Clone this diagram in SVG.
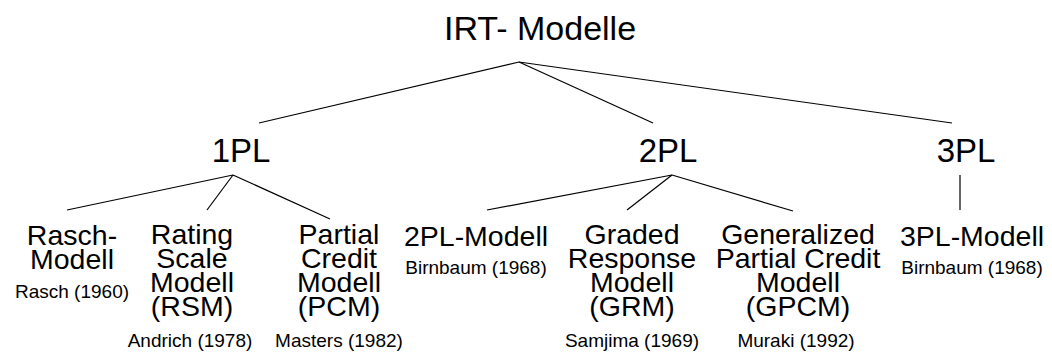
<svg xmlns="http://www.w3.org/2000/svg" width="1052" height="353" viewBox="0 0 1052 353">
  <style>
    text { font-family: "Liberation Sans", Arial, sans-serif; fill: #000; text-anchor: middle; }
    .root { font-size: 34px; }
    .lvl { font-size: 33px; }
    .leaf { font-size: 28.5px; }
    .ref { font-size: 19px; }
    .edge { stroke: #000; stroke-width: 1.2; fill: none; }
  </style>
  <rect width="1052" height="353" fill="#fff"/>

  <g id="connectors">
    <line class="edge" x1="519" y1="62" x2="259" y2="123"/>
    <line class="edge" x1="519" y1="62" x2="653" y2="123"/>
    <line class="edge" x1="519" y1="62" x2="952" y2="123"/>

    <line class="edge" x1="233" y1="175" x2="67" y2="210"/>
    <line class="edge" x1="233" y1="175" x2="207" y2="210"/>
    <line class="edge" x1="233" y1="175" x2="330" y2="219"/>

    <line class="edge" x1="672" y1="175" x2="487" y2="210"/>
    <line class="edge" x1="672" y1="175" x2="627" y2="210"/>
    <line class="edge" x1="672" y1="175" x2="793" y2="211"/>

    <line class="edge" x1="960" y1="175" x2="960" y2="210"/>
  </g>

  <g id="irt-modelle"><text class="root" x="540" y="40">IRT- Modelle</text></g>

  <g id="pl1"><text class="lvl" x="241" y="162">1PL</text></g>
  <g id="pl2"><text class="lvl" x="668" y="162">2PL</text></g>
  <g id="pl3"><text class="lvl" x="966" y="162">3PL</text></g>

  <g id="rasch">
    <text class="leaf" x="72" y="245">Rasch-</text>
    <text class="leaf" x="72" y="269">Modell</text>
    <text class="ref" x="72" y="298">Rasch (1960)</text>
  </g>

  <g id="rsm">
    <text class="leaf" x="192" y="244">Rating</text>
    <text class="leaf" x="192" y="268">Scale</text>
    <text class="leaf" x="192" y="292">Modell</text>
    <text class="leaf" x="192" y="316">(RSM)</text>
    <text class="ref" x="190" y="347">Andrich (1978)</text>
  </g>

  <g id="pcm">
    <text class="leaf" x="339" y="244">Partial</text>
    <text class="leaf" x="339" y="268">Credit</text>
    <text class="leaf" x="339" y="292">Modell</text>
    <text class="leaf" x="339" y="316">(PCM)</text>
    <text class="ref" x="339" y="347">Masters (1982)</text>
  </g>

  <g id="pl2-modell">
    <text class="leaf" x="476" y="246">2PL-Modell</text>
    <text class="ref" x="476" y="274">Birnbaum (1968)</text>
  </g>

  <g id="grm">
    <text class="leaf" x="632" y="244">Graded</text>
    <text class="leaf" x="632" y="268">Response</text>
    <text class="leaf" x="632" y="292">Modell</text>
    <text class="leaf" x="632" y="316">(GRM)</text>
    <text class="ref" x="632" y="347">Samjima (1969)</text>
  </g>

  <g id="gpcm">
    <text class="leaf" x="798" y="244">Generalized</text>
    <text class="leaf" x="798" y="268">Partial Credit</text>
    <text class="leaf" x="798" y="292">Modell</text>
    <text class="leaf" x="798" y="316">(GPCM)</text>
    <text class="ref" x="796" y="347">Muraki (1992)</text>
  </g>

  <g id="pl3-modell">
    <text class="leaf" x="972" y="246">3PL-Modell</text>
    <text class="ref" x="972" y="274">Birnbaum (1968)</text>
  </g>
</svg>
